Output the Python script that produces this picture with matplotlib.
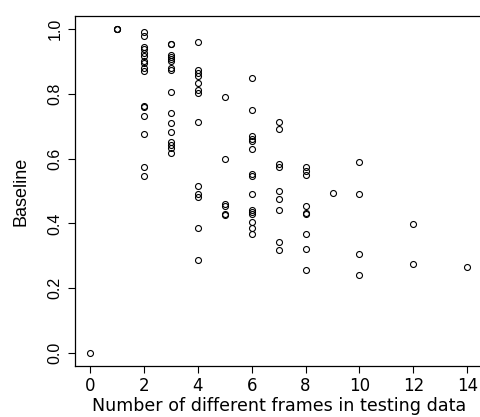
import matplotlib
matplotlib.use("Agg")
import matplotlib.pyplot as plt

# baseline scores, grouped by the number of different frames in the testing data
frames_0 = [0.0]
frames_1 = [1.0, 1.0, 1.0]
frames_2 = [0.990, 0.979, 0.945, 0.937, 0.925, 0.917, 0.901, 0.894, 0.879, 0.871,
            0.762, 0.760, 0.730, 0.676, 0.573, 0.547]
frames_3 = [0.955, 0.953, 0.920, 0.915, 0.908, 0.901, 0.879, 0.873, 0.806, 0.740,
            0.709, 0.683, 0.652, 0.642, 0.632, 0.618]
frames_4 = [0.960, 0.873, 0.865, 0.855, 0.834, 0.812, 0.803, 0.713, 0.515, 0.491,
            0.482, 0.385, 0.287]
frames_5 = [0.790, 0.599, 0.459, 0.454, 0.429, 0.425]
frames_6 = [0.848, 0.750, 0.670, 0.660, 0.653, 0.629, 0.552, 0.546, 0.490, 0.441,
            0.436, 0.429, 0.403, 0.385, 0.366]
frames_7 = [0.712, 0.691, 0.583, 0.575, 0.501, 0.475, 0.440, 0.344, 0.317]
frames_8 = [0.573, 0.561, 0.548, 0.455, 0.431, 0.429, 0.366, 0.322, 0.256]
frames_9 = [0.495]
frames_10 = [0.591, 0.491, 0.306, 0.241]
frames_12 = [0.397, 0.274]
frames_14 = [0.266]

groups = {0: frames_0, 1: frames_1, 2: frames_2, 3: frames_3, 4: frames_4,
          5: frames_5, 6: frames_6, 7: frames_7, 8: frames_8, 9: frames_9,
          10: frames_10, 12: frames_12, 14: frames_14}

xticks = [0, 2, 4, 6, 8, 10, 12, 14]
yticks = [0.0, 0.2, 0.4, 0.6, 0.8, 1.0]

x = []
y = []
for n, vals in groups.items():
    x += [n] * len(vals)
    y += vals

fig = plt.figure(figsize=(4.8, 4.17), dpi=100)
ax = fig.add_axes([0.156, 0.1223, 0.849, 0.8393])

ax.plot(x, y, linestyle='none', marker='o', markersize=4.3,
        markerfacecolor='none', markeredgecolor='black', markeredgewidth=0.8)

ax.set_xlim(-0.56, 14.56)
ax.set_ylim(-0.04, 1.04)
ax.set_xticks(xticks)
ax.set_xticklabels([str(t) for t in xticks], fontfamily='DejaVu Sans', fontsize=12)
ax.set_yticks(yticks)
ax.set_yticklabels(['%.1f' % t for t in yticks], rotation=90, va='center',
                   fontfamily='Liberation Sans', fontsize=11.5)
ax.tick_params(direction='out', length=5, width=0.8, pad=3)
ax.tick_params(axis='y', pad=4)

for s in ax.spines.values():
    s.set_linewidth(0.9)
    s.set_color('black')

ax.set_xlabel('Number of different frames in testing data', fontfamily='DejaVu Sans',
              fontsize=12.6, labelpad=1.5)
ax.set_ylabel('Baseline', fontfamily='Liberation Sans', fontsize=13, labelpad=13)

fig.savefig('out.png', dpi=100)
